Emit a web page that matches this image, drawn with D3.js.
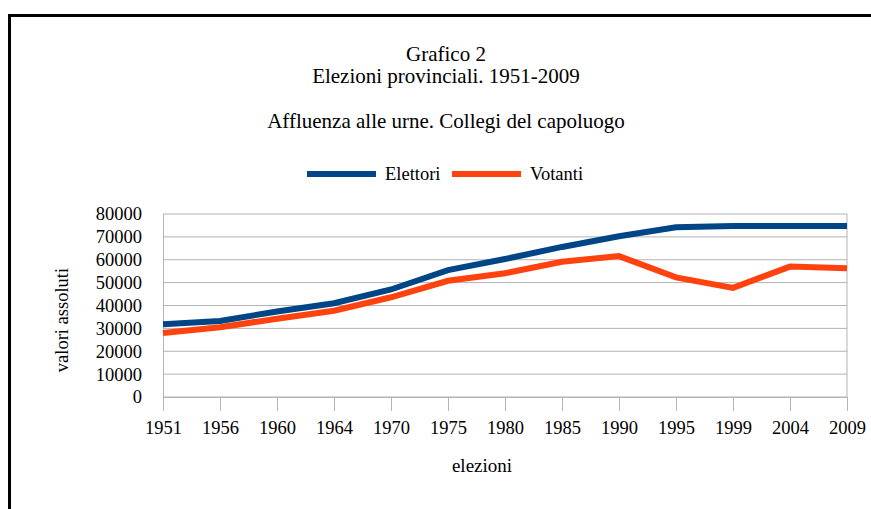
<!DOCTYPE html>
<head>
  <script src="https://d3js.org/d3.v7.min.js"></script>
</head>
<style>
  body { margin: 0; background: #fff; }
  text { font-family: "Liberation Serif", "Times New Roman", serif; fill: #000; }
</style>
<body>
  <svg id="chart"></svg>
</body>
<script>
  var w = 871;
  var h = 509;

  // data
  var years = ["1951", "1956", "1960", "1964", "1970", "1975", "1980", "1985", "1990", "1995", "1999", "2004", "2009"];
  var elettori = [31800, 33200, 37400, 41000, 47000, 55500, 60300, 65600, 70300, 74200, 74700, 74700, 74700];
  var votanti = [28000, 30500, 34200, 37700, 43600, 50800, 54100, 59100, 61600, 52300, 47700, 57000, 56300];
  var yTicks = [0, 10000, 20000, 30000, 40000, 50000, 60000, 70000, 80000];

  var margin = {top: 214, right: 24, bottom: 112, left: 163};

  var svg = d3.select("svg#chart")
    .attr("width", w)
    .attr("height", h);

  // frame
  svg.append("path")
    .attr("d", "M9.5,520 V15.5 H880")
    .attr("fill", "none")
    .attr("stroke", "#000")
    .attr("stroke-width", 3);

  // titles
  svg.append("text").attr("x", 446).attr("y", 61).attr("text-anchor", "middle")
    .style("font-size", "21px").text("Grafico 2");
  svg.append("text").attr("x", 446).attr("y", 83).attr("text-anchor", "middle")
    .style("font-size", "21px").text("Elezioni provinciali. 1951-2009");
  svg.append("text").attr("x", 446).attr("y", 128).attr("text-anchor", "middle")
    .style("font-size", "21px").text("Affluenza alle urne. Collegi del capoluogo");

  var x = d3.scalePoint()
    .domain(years)
    .range([margin.left, w - margin.right]);

  var y = d3.scaleLinear()
    .domain([0, 80000])
    .range([h - margin.bottom, margin.top]);

  // grid
  svg.append("g").selectAll("line")
    .data(yTicks)
    .enter().append("line")
    .attr("x1", margin.left).attr("x2", w - margin.right)
    .attr("y1", function(d){ return y(d); })
    .attr("y2", function(d){ return y(d); })
    .attr("stroke", "#b3b3b3");

  // right border of plot area
  svg.append("line")
    .attr("x1", w - margin.right).attr("x2", w - margin.right)
    .attr("y1", y(80000)).attr("y2", y(0))
    .attr("stroke", "#b3b3b3");

  // x axis
  var xAxis = svg.append("g")
    .attr("transform", "translate(0," + y(0) + ")")
    .call(d3.axisBottom(x).tickSize(14).tickPadding(10));
  xAxis.select(".domain").attr("stroke", "#b3b3b3").attr("d", "M" + margin.left + ",0.5H" + (w - margin.right));
  xAxis.selectAll(".tick line").attr("stroke", "#b3b3b3");
  xAxis.selectAll("text").style("font-size", "18.5px").style("font-family", "Liberation Serif").attr("fill", "#000");

  // y axis
  var yAxis = svg.append("g")
    .attr("transform", "translate(" + margin.left + ",0)")
    .call(d3.axisLeft(y).tickValues(yTicks).tickFormat(d3.format("d")).tickSize(0).tickPadding(21));
  yAxis.select(".domain").attr("stroke", "#b3b3b3");
  yAxis.selectAll("text").style("font-size", "18.5px").style("font-family", "Liberation Serif").attr("fill", "#000");

  // axis titles
  svg.append("text").attr("x", 482).attr("y", 472).attr("text-anchor", "middle")
    .style("font-size", "19px").text("elezioni");
  svg.append("text")
    .attr("transform", "translate(68," + 320 + ") rotate(-90)")
    .attr("text-anchor", "middle")
    .style("font-size", "18.5px").text("valori assoluti");

  var line = d3.line()
    .x(function(d, i){ return x(years[i]); })
    .y(function(d){ return y(d); });

  svg.append("path").datum(elettori)
    .attr("d", line).attr("fill", "none")
    .attr("stroke", "#004586").attr("stroke-width", 6);
  svg.append("path").datum(votanti)
    .attr("d", line).attr("fill", "none")
    .attr("stroke", "#ff420e").attr("stroke-width", 6);

  // legend
  var legend = [{name: "Elettori", color: "#004586", x: 307}, {name: "Votanti", color: "#ff420e", x: 452}];
  var lg = svg.append("g").selectAll("g").data(legend).enter().append("g");
  lg.append("line")
    .attr("x1", function(d){ return d.x; }).attr("x2", function(d){ return d.x + 69; })
    .attr("y1", 174).attr("y2", 174)
    .attr("stroke", function(d){ return d.color; }).attr("stroke-width", 6);
  lg.append("text")
    .attr("x", function(d){ return d.x + 78; }).attr("y", 180)
    .style("font-size", "18.5px")
    .text(function(d){ return d.name; });
</script>
